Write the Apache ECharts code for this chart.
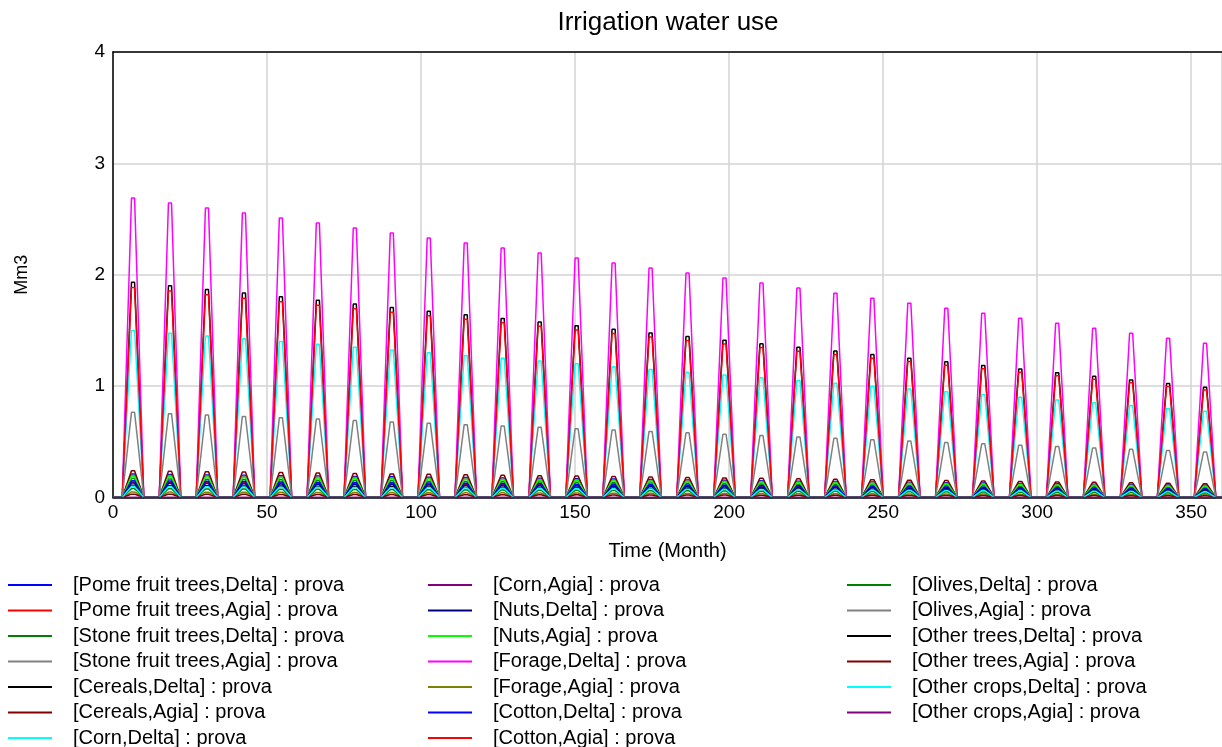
<!DOCTYPE html>
<html>
<head>
<meta charset="utf-8">
<script src="https://cdn.jsdelivr.net/npm/echarts@6/dist/echarts.min.js"></script>
<style>
html,body{margin:0;padding:0;background:#fff;overflow:hidden;}
#chart{width:1222px;height:747px;}
</style>
</head>
<body>
<div id="chart"></div>
<script>
// ---- data ----
const seriesNames = [
  "[Pome fruit trees,Delta] : prova",
  "[Pome fruit trees,Agia] : prova",
  "[Stone fruit trees,Delta] : prova",
  "[Stone fruit trees,Agia] : prova",
  "[Cereals,Delta] : prova",
  "[Cereals,Agia] : prova",
  "[Corn,Delta] : prova",
  "[Corn,Agia] : prova",
  "[Nuts,Delta] : prova",
  "[Nuts,Agia] : prova",
  "[Forage,Delta] : prova",
  "[Forage,Agia] : prova",
  "[Cotton,Delta] : prova",
  "[Cotton,Agia] : prova",
  "[Olives,Delta] : prova",
  "[Olives,Agia] : prova",
  "[Other trees,Delta] : prova",
  "[Other trees,Agia] : prova",
  "[Other crops,Delta] : prova",
  "[Other crops,Agia] : prova"
];
const seriesColors = [
  "#0000ff","#ff0000","#008000","#808080","#000000","#800000","#00ffff",
  "#800080","#000080","#00ff00","#ff00ff","#808000","#0000ff","#ff0000",
  "#008000","#808080","#000000","#800000","#00ffff","#800080"
];
// Share of the yearly peak reached in each month of the year (month 0..11)
const monthProfile = [0, 0, 0, 0, 0.333, 0.667, 1, 1, 0.667, 0.333, 0, 0];
// Yearly peak values (Mm3), years 1..30
const pomeDelta   = [0.210,0.207,0.203,0.200,0.196,0.193,0.189,0.186,0.182,0.179,0.175,0.172,0.168,0.165,0.161,0.158,0.154,0.151,0.147,0.144,0.140,0.137,0.133,0.130,0.126,0.123,0.119,0.116,0.112,0.109];
const pomeAgia    = [0.140,0.138,0.135,0.133,0.131,0.128,0.126,0.124,0.121,0.119,0.117,0.114,0.112,0.110,0.107,0.105,0.103,0.100,0.098,0.096,0.093,0.091,0.089,0.086,0.084,0.082,0.079,0.077,0.075,0.072];
const stoneDelta  = [0.170,0.167,0.164,0.161,0.159,0.156,0.153,0.150,0.147,0.144,0.142,0.139,0.136,0.133,0.130,0.127,0.124,0.122,0.119,0.116,0.113,0.110,0.107,0.105,0.102,0.099,0.096,0.093,0.090,0.088];
const stoneAgia   = [0.200,0.197,0.193,0.190,0.187,0.183,0.180,0.177,0.173,0.170,0.167,0.163,0.160,0.157,0.153,0.150,0.146,0.143,0.140,0.136,0.133,0.130,0.126,0.123,0.120,0.116,0.113,0.110,0.106,0.103];
const cerealsDelta= [1.933,1.901,1.868,1.836,1.803,1.771,1.738,1.706,1.673,1.641,1.608,1.576,1.543,1.511,1.478,1.446,1.413,1.381,1.348,1.316,1.283,1.251,1.218,1.186,1.153,1.121,1.088,1.056,1.023,0.991];
const cerealsAgia = [0.240,0.236,0.232,0.228,0.224,0.220,0.216,0.212,0.208,0.204,0.200,0.196,0.192,0.188,0.184,0.180,0.176,0.172,0.168,0.164,0.160,0.156,0.152,0.148,0.144,0.140,0.136,0.132,0.128,0.124];
const cornDelta   = [1.500,1.475,1.450,1.425,1.400,1.375,1.350,1.325,1.300,1.275,1.250,1.225,1.200,1.175,1.150,1.125,1.100,1.075,1.050,1.025,1.000,0.975,0.950,0.925,0.900,0.875,0.850,0.825,0.800,0.775];
const cornAgia    = [0,0,0,0,0,0,0,0,0,0,0,0,0,0,0,0,0,0,0,0,0,0,0,0,0,0,0,0,0,0];
const nutsDelta   = [0.130,0.128,0.126,0.123,0.121,0.119,0.117,0.115,0.113,0.110,0.108,0.106,0.104,0.102,0.100,0.097,0.095,0.093,0.091,0.089,0.087,0.084,0.082,0.080,0.078,0.076,0.073,0.071,0.069,0.067];
const nutsAgia    = [0.190,0.187,0.184,0.180,0.177,0.174,0.171,0.168,0.165,0.161,0.158,0.155,0.152,0.149,0.146,0.142,0.139,0.136,0.133,0.130,0.126,0.123,0.120,0.117,0.114,0.111,0.107,0.104,0.101,0.098];
const forageDelta = [2.690,2.645,2.600,2.555,2.510,2.465,2.420,2.375,2.330,2.285,2.240,2.195,2.150,2.105,2.060,2.015,1.970,1.925,1.880,1.835,1.790,1.745,1.700,1.655,1.610,1.565,1.520,1.475,1.430,1.385];
const forageAgia  = [0.050,0.049,0.048,0.048,0.047,0.046,0.045,0.044,0.043,0.042,0.042,0.041,0.040,0.039,0.038,0.037,0.037,0.036,0.035,0.034,0.033,0.032,0.032,0.031,0.030,0.029,0.028,0.027,0.027,0.026];
const cottonDelta = [0.150,0.148,0.145,0.143,0.140,0.138,0.135,0.133,0.130,0.128,0.125,0.123,0.120,0.118,0.115,0.113,0.110,0.108,0.105,0.103,0.100,0.098,0.095,0.093,0.090,0.088,0.085,0.083,0.080,0.078];
const cottonAgia  = [1.885,1.853,1.821,1.790,1.758,1.727,1.695,1.663,1.631,1.600,1.568,1.537,1.504,1.473,1.441,1.410,1.378,1.346,1.314,1.283,1.251,1.220,1.188,1.156,1.124,1.093,1.061,1.030,0.997,0.966];
const olivesDelta = [0.080,0.079,0.077,0.076,0.075,0.073,0.072,0.071,0.069,0.068,0.067,0.065,0.064,0.063,0.061,0.060,0.059,0.057,0.056,0.055,0.053,0.052,0.051,0.049,0.048,0.047,0.045,0.044,0.043,0.041];
const olivesAgia  = [0.765,0.753,0.740,0.728,0.716,0.704,0.691,0.679,0.667,0.654,0.642,0.630,0.617,0.605,0.593,0.581,0.568,0.556,0.544,0.531,0.519,0.507,0.494,0.482,0.470,0.458,0.445,0.433,0.421,0.408];
const otherTreesDelta = [0.110,0.108,0.106,0.104,0.103,0.101,0.099,0.097,0.095,0.093,0.092,0.090,0.088,0.086,0.084,0.082,0.081,0.079,0.077,0.075,0.073,0.071,0.070,0.068,0.066,0.064,0.062,0.060,0.059,0.057];
const otherTreesAgia  = [0.030,0.030,0.029,0.029,0.028,0.027,0.027,0.026,0.026,0.025,0.025,0.024,0.024,0.023,0.023,0.022,0.022,0.021,0.021,0.020,0.020,0.019,0.019,0.018,0.018,0.017,0.017,0.016,0.016,0.015];
const otherCropsDelta = [0.100,0.098,0.097,0.095,0.093,0.092,0.090,0.088,0.087,0.085,0.083,0.082,0.080,0.078,0.077,0.075,0.073,0.072,0.070,0.068,0.067,0.065,0.063,0.062,0.060,0.058,0.057,0.055,0.053,0.051];
const otherCropsAgia  = [0,0,0,0,0,0,0,0,0,0,0,0,0,0,0,0,0,0,0,0,0,0,0,0,0,0,0,0,0,0];

const yearlyPeaks = [pomeDelta,pomeAgia,stoneDelta,stoneAgia,cerealsDelta,cerealsAgia,cornDelta,cornAgia,
  nutsDelta,nutsAgia,forageDelta,forageAgia,cottonDelta,cottonAgia,olivesDelta,olivesAgia,
  otherTreesDelta,otherTreesAgia,otherCropsDelta,otherCropsAgia];

const xTicks = [0,50,100,150,200,250,300,350];
const yTicks = [0,1,2,3,4];

// ---- build monthly series ----
function monthly(peaks){
  const out = [];
  for (let y = 0; y < peaks.length; y++) {
    for (let m = 0; m < 12; m++) out.push([y*12+m, +(peaks[y]*monthProfile[m]).toFixed(4)]);
  }
  out.push([peaks.length*12, 0]);
  return out;
}

const FONT = '"Liberation Sans", Arial, sans-serif';
const series = seriesNames.map((n,i)=>({
  name:n, type:'line', showSymbol:false, symbol:'none',
  data: monthly(yearlyPeaks[i]),
  lineStyle:{color:seriesColors[i], width:1.5},
  itemStyle:{color:seriesColors[i]},
  animation:false, z: 2
}));

function legendCol(names,left){
  return {
    orient:'vertical', left:left, top:575, height:200, padding:0,
    itemWidth:44, itemHeight:2, itemGap:5.5,
    icon:'rect', data:names,
    textStyle:{fontFamily:FONT, fontSize:20, color:'#000', lineHeight:20, padding:[0,0,0,16]},
    selectedMode:false
  };
}

const chart = echarts.init(document.getElementById('chart'), null, {renderer:'canvas'});
chart.setOption({
  backgroundColor:'#fff',
  animation:false,
  title:{text:'Irrigation water use', left:668, textAlign:'center', top:10, padding:0,
    textStyle:{fontFamily:FONT, fontSize:26, fontWeight:'normal', color:'#000'}},
  grid:{left:113, right:0, top:52, bottom:249.5},
  legend:[
    legendCol(seriesNames.slice(0,7), 8),
    legendCol(seriesNames.slice(7,14), 428),
    legendCol(seriesNames.slice(14), 847)
  ],
  xAxis:[{
    type:'value', min:xTicks[0], max:360, interval:50,
    name:'Time (Month)', nameLocation:'middle', nameGap:44,
    nameTextStyle:{fontFamily:FONT, fontSize:20, color:'#000'},
    axisLine:{show:true, lineStyle:{color:'#000', width:1.5}},
    axisTick:{show:false},
    axisLabel:{fontFamily:FONT, fontSize:19, color:'#000', margin:6, showMaxLabel:false,
      formatter:v=> xTicks.indexOf(v)>=0 ? String(v) : ''},
    splitLine:{show:true, lineStyle:{color:'#d3d3d3', width:1.5}}
  },{
    type:'value', position:'top', min:0, max:360,
    axisLine:{show:true, lineStyle:{color:'#000', width:1.5}},
    axisTick:{show:false}, axisLabel:{show:false}, splitLine:{show:false}
  }],
  yAxis:{
    type:'value', min:yTicks[0], max:yTicks[yTicks.length-1], interval:1,
    name:'Mm3', nameLocation:'middle', nameGap:82, nameRotate:90,
    nameTextStyle:{fontFamily:FONT, fontSize:18, color:'#000'},
    axisLine:{show:true, lineStyle:{color:'#000', width:1.5}},
    axisTick:{show:false},
    axisLabel:{fontFamily:FONT, fontSize:19, color:'#000', margin:8},
    splitLine:{show:true, lineStyle:{color:'#d3d3d3', width:1.5}}
  },
  series: series
});
</script>
</body>
</html>
